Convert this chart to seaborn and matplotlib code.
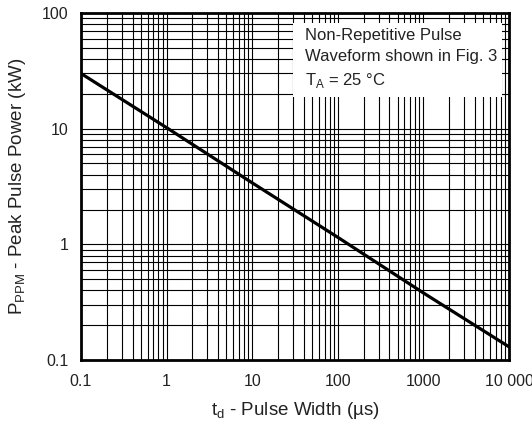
import matplotlib
matplotlib.use("Agg")
import matplotlib.pyplot as plt
import seaborn as sns
import pandas as pd
from matplotlib.ticker import LogLocator, NullFormatter
from matplotlib.patches import Rectangle

sns.set_theme(style="white")
plt.rcParams['font.family'] = ['Liberation Sans', 'DejaVu Sans']

pulse_width_us = [0.1, 1, 10, 100, 1000, 10000]
peak_power_kw = [30, 10.2, 3.4, 1.15, 0.38, 0.13]
x_ticks = [0.1, 1, 10, 100, 1000, 10000]
x_labels = ["0.1", "1", "10", "100", "1000", "10 000"]
y_ticks = [0.1, 1, 10, 100]
y_labels = ["0.1", "1", "10", "100"]

df = pd.DataFrame({"t": pulse_width_us, "p": peak_power_kw})

fig = plt.figure(figsize=(5.32, 4.23), dpi=100)
ax = fig.add_axes([81/532, 1 - 360/423, (509-81)/532, (360-13)/423])
ax.set_xscale("log")
ax.set_yscale("log")

sns.lineplot(data=df, x="t", y="p", ax=ax, color="black", linewidth=2.3, zorder=5)

ax.set_xlim(0.1, 10000)
ax.set_ylim(0.1, 100)
ax.set_xticks(x_ticks)
ax.set_xticklabels(x_labels)
ax.set_yticks(y_ticks)
ax.set_yticklabels(y_labels)
ax.xaxis.set_minor_locator(LogLocator(base=10, subs=range(2, 10), numticks=20))
ax.yaxis.set_minor_locator(LogLocator(base=10, subs=range(2, 10), numticks=20))
ax.xaxis.set_minor_formatter(NullFormatter())
ax.yaxis.set_minor_formatter(NullFormatter())
ax.grid(True, which="both", color="black", linewidth=0.8)
ax.set_axisbelow(True)

for s in ax.spines.values():
    s.set_color("black")
    s.set_linewidth(2)
    s.set_zorder(6)
ax.tick_params(which="both", length=0, labelsize=11.5, colors="#222222")
ax.tick_params(axis="x", pad=10)
ax.tick_params(axis="y", pad=9)

ax.set_xlabel(r"t$_\mathregular{d}$ - Pulse Width (µs)", fontsize=13.5, color="#222222", labelpad=8)
ax.set_ylabel(r"P$_\mathregular{PPM}$ - Peak Pulse Power (kW)", fontsize=13.5, color="#222222", labelpad=10)

ax.add_patch(Rectangle((0.495, 0.758), 0.489, 0.213, transform=ax.transAxes,
                       facecolor="white", edgecolor="none", zorder=6.5))
ax.text(0.523, 0.956,
        "Non-Repetitive Pulse\nWaveform shown in Fig. 3\n" + r"T$_\mathregular{A}$ = 25 °C",
        transform=ax.transAxes, ha="left", va="top", fontsize=12, color="#222222",
        linespacing=1.5, zorder=7)

fig.savefig("out.png", dpi=100)
